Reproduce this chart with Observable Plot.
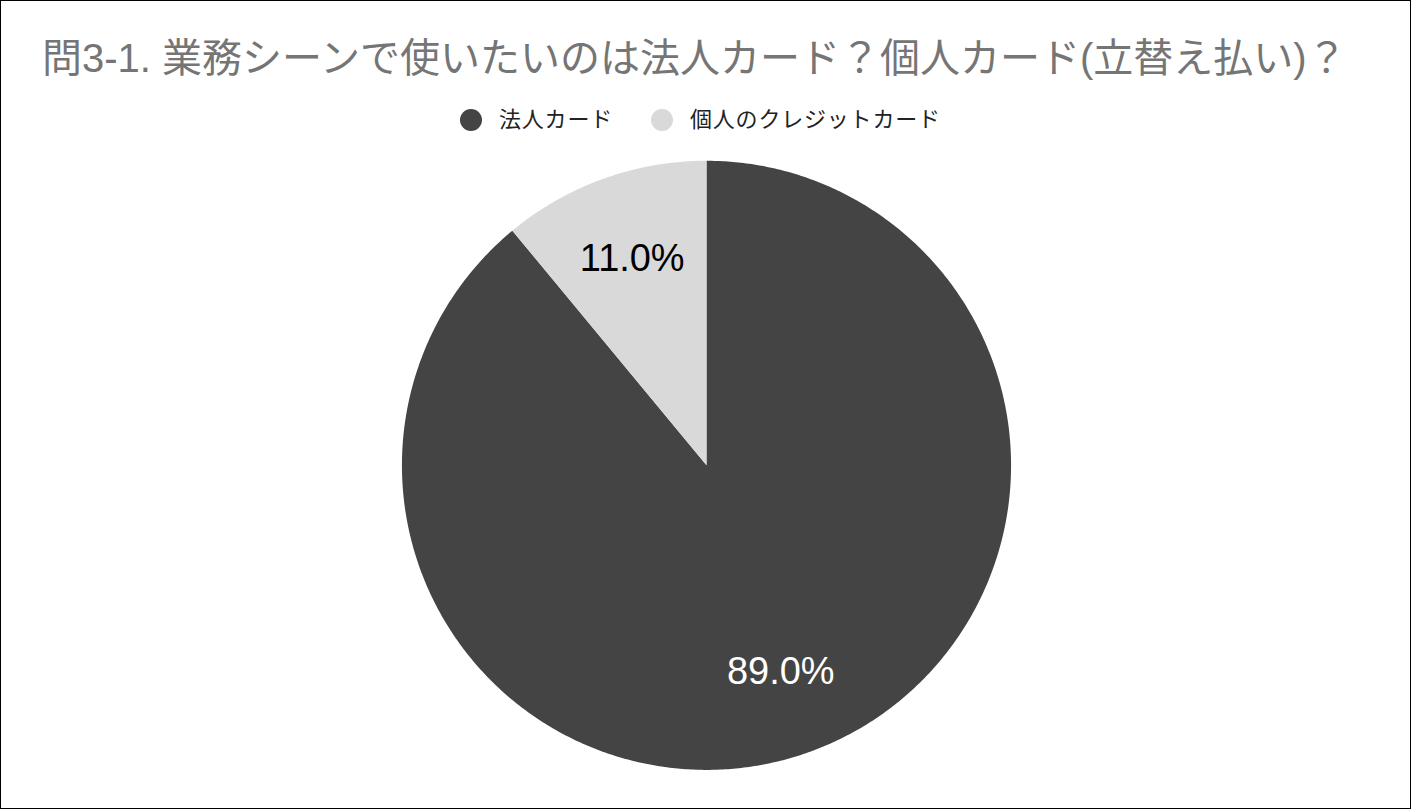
<!DOCTYPE html>
<html>
<head>
<meta charset="utf-8">
<script src="https://cdn.jsdelivr.net/npm/d3@7"></script>
<script src="https://cdn.jsdelivr.net/npm/@observablehq/plot@0.6"></script>
<style>
  html, body { margin: 0; padding: 0; background: #fff; }
  #wrap {
    position: relative; width: 1411px; height: 809px; box-sizing: border-box;
    border: 1px solid #000; overflow: hidden; background: #fff;
    font-family: "Liberation Sans", Arial, "Noto Sans CJK JP", sans-serif;
  }
  #title {
    position: absolute; left: 41px; top: 37px; font-size: 40px; line-height: 40px;
    color: #757575; white-space: nowrap;
  }
  #legend {
    position: absolute; left: 459px; top: 108px; height: 22px;
    display: flex; align-items: center; white-space: nowrap;
  }
  .item { display: flex; align-items: center; }
  .sw { width: 22px; height: 22px; border-radius: 50%; display: inline-block; }
  .lab { font-size: 22px; color: #222; margin-left: 17px; line-height: 22px; letter-spacing: 0.8px; }
  .item + .item { margin-left: 38px; }
  #chart { position: absolute; left: 0; top: 0; }
</style>
</head>
<body>
<div id="wrap">
  <div id="chart"></div>
  <div id="title"></div>
  <div id="legend"></div>
</div>
<script>
const title = "問3-1. 業務シーンで使いたいのは法人カード？個人カード(立替え払い)？";
const categories = ["法人カード", "個人のクレジットカード"];
const values = [89.0, 11.0];
const sliceColors = ["#444444", "#d9d9d9"];

document.getElementById("title").textContent = title;

const legend = document.getElementById("legend");
categories.forEach((c, i) => {
  const item = document.createElement("div");
  item.className = "item";
  const sw = document.createElement("span");
  sw.className = "sw";
  sw.style.background = sliceColors[i];
  const lab = document.createElement("span");
  lab.className = "lab";
  lab.textContent = c;
  item.appendChild(sw);
  item.appendChild(lab);
  legend.appendChild(item);
});

const arcs = d3.pie().sort(null).value(d => d)(values);
const outline = [];
arcs.forEach((a, i) => {
  const cat = categories[i];
  outline.push({cat, x: 0, y: 0});
  const n = Math.max(2, Math.ceil((a.endAngle - a.startAngle) / (Math.PI / 360)));
  for (let k = 0; k <= n; k++) {
    const t = a.startAngle + (a.endAngle - a.startAngle) * k / n;
    outline.push({cat, x: Math.sin(t), y: Math.cos(t)});
  }
});

const labelR = 0.72;
const labels = arcs.map((a, i) => {
  const m = (a.startAngle + a.endAngle) / 2;
  return {cat: categories[i], x: labelR * Math.sin(m), y: labelR * Math.cos(m),
          text: values[i].toFixed(1) + "%", dark: i === 0};
});

const chart = Plot.plot({
  width: 1411, height: 809,
  margin: 0,
  x: {domain: [-1, 1], range: [401, 1011], axis: null},
  y: {domain: [-1, 1], range: [769.5, 159.5], axis: null},
  color: {domain: categories, range: sliceColors},
  style: {background: "transparent", overflow: "visible"},
  marks: [
    Plot.line(outline, {x: "x", y: "y", z: "cat", fill: "cat", stroke: "none", curve: "linear"}),
    Plot.text(labels.filter(d => d.dark), {x: "x", y: "y", text: "text", fill: "#ffffff",
      fontSize: 38, fontFamily: "Liberation Sans, Arial, sans-serif"}),
    Plot.text(labels.filter(d => !d.dark), {x: "x", y: "y", text: "text", fill: "#000000",
      fontSize: 38, fontFamily: "Liberation Sans, Arial, sans-serif"})
  ]
});
document.getElementById("chart").appendChild(chart);
</script>
</body>
</html>
